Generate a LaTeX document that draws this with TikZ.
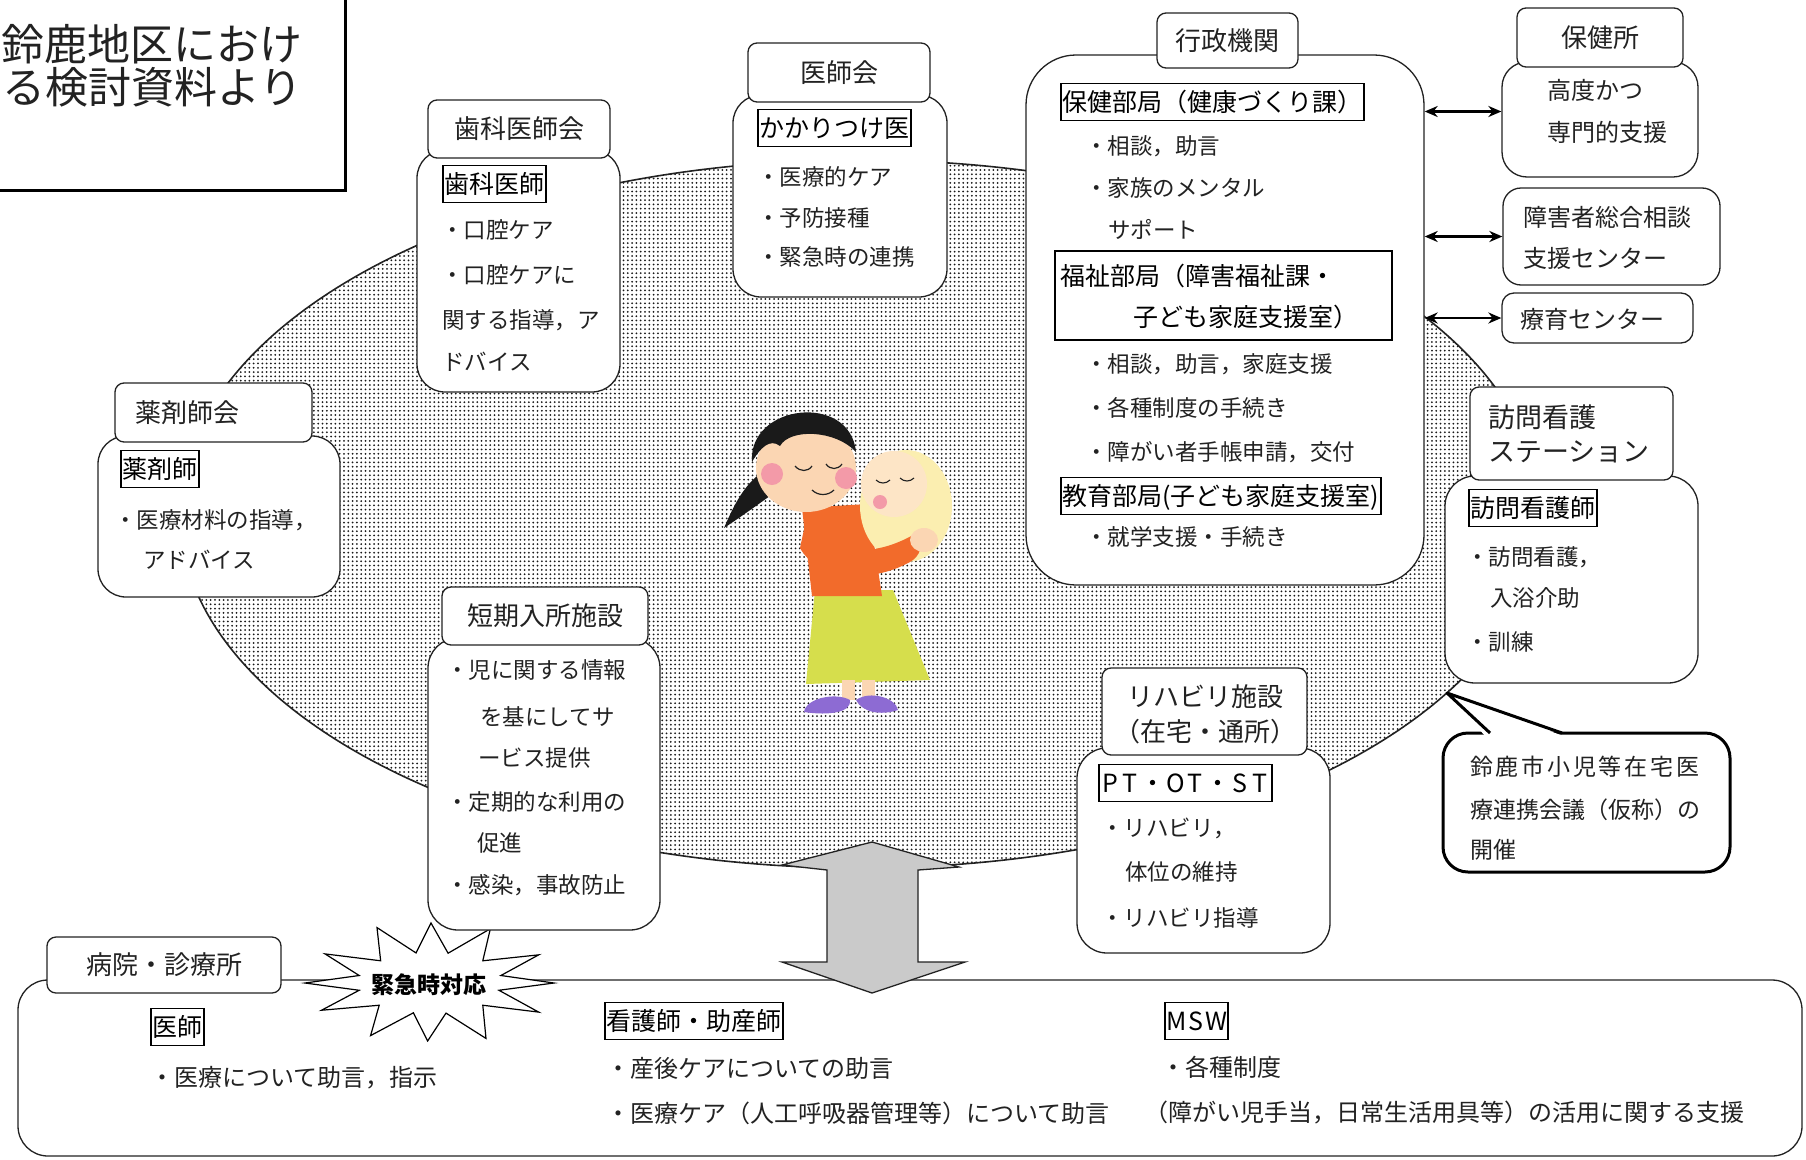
\documentclass[tikz,border=0pt]{standalone}
\usepackage{fontspec}
\setmainfont{Noto Sans CJK JP}
\usetikzlibrary{arrows.meta,patterns.meta,fit}
\definecolor{ink}{HTML}{222222}
\definecolor{arrowgray}{HTML}{CACACA}
\definecolor{hair}{HTML}{1A1A1A}
\definecolor{skin}{HTML}{FBD6B3}
\definecolor{blush}{HTML}{F39AA8}
\definecolor{topcol}{HTML}{F26B2B}
\definecolor{skirt}{HTML}{D6DE4C}
\definecolor{shoe}{HTML}{8D6BD3}
\definecolor{wrap}{HTML}{FBEEB0}
\definecolor{babyskin}{HTML}{FDE5C6}
\newcommand{\fsz}[1]{\fontsize{#1}{#1}\selectfont}
\newcommand{\wl}[1]{\makebox[0.8em][c]{#1}}
\begin{document}
\begin{tikzpicture}[x=1pt,y=-1pt,
  every node/.style={inner sep=0pt,text=ink},
  sz/.style={font=\fsz{#1},text height={0.88*#1},text depth={0.12*#1}},
  txt/.style={anchor=west,sz=#1},txt/.default=22.5,
  lbl/.style={draw=black,line width=1.6pt,anchor=west,sz=25,text=black,inner xsep=1.5pt,inner ysep=6pt},
  hdr/.style={draw=ink,line width=1.3pt,fill=white,rounded corners=9pt},
  panel/.style={draw=ink,line width=1.3pt,fill=white,rounded corners=28pt},
  dbl/.style={{Stealth[length=13pt,width=11pt]}-{Stealth[length=13pt,width=11pt]},line width=2.2pt,black},
]
\useasboundingbox (0,0) rectangle (1806,1159);
\fill[white] (0,0) rectangle (1806,1159);

% ---------- source note (top left) ----------
\draw[line width=3pt] (345,-3) -- (345,190) -- (-3,190);
\node[txt=43] (src1) at (1,44) {鈴鹿地区におけ};
\node[txt=43] (src2) at (2,87) {る検討資料より};

% ---------- dotted ellipse: the home ----------
\coordinate (ec) at (860,514);
\fill[white] (ec) ellipse [x radius=680, y radius=354];
\fill[pattern={Dots[distance=4.3pt,radius=1pt]},pattern color=black!90] (ec) ellipse [x radius=680, y radius=354];
\draw[line width=1.6pt,ink] (ec) ellipse [x radius=680, y radius=354];

% ---------- hospital panel (bottom) ----------
\node[panel,rounded corners=30pt,fit={(18,980) (1802,1156)}] (hosp) {};

% ---------- big down arrow ----------
\draw[fill=arrowgray,draw=ink,line width=1.3pt,line join=miter]
  (782,865) -- (872,842) -- (959,867) -- (918,870) -- (918,962) -- (965,962)
  -- (872,993) -- (782,962) -- (827,962) -- (827,870) -- cycle;

% ---------- emergency starburst ----------
\begin{scope}[shift={(431,983)}]
\draw[fill=white,line width=1.2pt,line join=miter]
  (0:123 and 57) -- (14:70 and 30) -- (28:122 and 62) -- (44:72 and 32)
  -- (60:110 and 64) -- (76:62 and 31) -- (92:96 and 58) -- (106:64 and 31)
  -- (122:114 and 62) -- (136:72 and 32) -- (152:124 and 58) -- (166:74 and 30)
  -- (180:126 and 54) -- (194:74 and 31) -- (208:120 and 62) -- (224:70 and 32)
  -- (240:108 and 64) -- (256:62 and 31) -- (270:96 and 60) -- (286:62 and 31)
  -- (302:112 and 64) -- (316:72 and 32) -- (332:122 and 60) -- (346:72 and 31)
  -- cycle;
\end{scope}
\node[sz=23,font=\fsz{23}\bfseries,text=black] (emg) at (429,985) {緊急時対応};

\node[hdr,fit={(47,937) (281,993)}] (hospH) {};
\node[sz=26] (hospT) at (hospH.center) {病院・診療所};
\node[lbl] (doc) at (150,1027) {医師};
\node[txt=24] (doc1) at (150,1077) {・医療について助言，指示};
\node[lbl] (nurse) at (604,1021) {看護師・助産師};
\node[txt=24] (nurse1) at (606,1068) {・産後ケアについての助言};
\node[txt=24] (nurse2) at (606,1113) {・医療ケア（人工呼吸器管理等）について助言};
\node[lbl] (msw) at (1164,1021) {\wl{M}\wl{S}\wl{W}};
\node[txt=24] (msw1) at (1161,1067) {・各種制度};
\node[txt=24] (msw2) at (1144,1112) {（障がい児手当，日常生活用具等）の活用に関する支援};

% ---------- dental association ----------
\node[panel,fit={(417,150) (620,392)}] (shikaB) {};
\node[hdr,fit={(428,100) (610,158)}] (shikaH) {};
\node[sz=26] (shikaT) at (shikaH.center) {歯科医師会};
\node[lbl] (shikaL) at (442,184) {歯科医師};
\node[txt] (shika1) at (441,230) {・口腔ケア};
\node[txt] (shika2) at (441,275) {・口腔ケアに};
\node[txt] (shika3) at (442,320) {関する指導，ア};
\node[txt] (shika4) at (442,362) {ドバイス};

% ---------- medical association ----------
\node[panel,fit={(733,95) (947,297)}] (ishiB) {};
\node[hdr,fit={(748,43) (930,102)}] (ishiH) {};
\node[sz=26] (ishiT) at (ishiH.center) {医師会};
\node[lbl] (ishiL) at (757,128) {かかりつけ医};
\node[txt] (ishi1) at (757,177) {・医療的ケア};
\node[txt] (ishi2) at (757,218) {・予防接種};
\node[txt] (ishi3) at (757,257) {・緊急時の連携};

% ---------- administration ----------
\node[panel,rounded corners=50pt,fit={(1026,55) (1424,585)}] (gyoB) {};
\node[hdr,fit={(1157,13) (1298,68)}] (gyoH) {};
\node[sz=26] (gyoT) at (gyoH.center) {行政機関};
\node[lbl] (hoken) at (1060,102) {保健部局（健康づくり課）};
\node[txt] (hoken1) at (1085,146) {・相談，助言};
\node[txt] (hoken2) at (1085,188) {・家族のメンタル};
\node[txt] (hoken3) at (1108,230) {サポート};
\node[draw=black,line width=1.6pt,fit={(1055,251) (1392,340)}] (fuku) {};
\node[txt=25,text=black] (fukuA) at (1060,276) {福祉部局（障害福祉課・};
\node[txt=25,text=black] (fukuB) at (1133,317) {子ども家庭支援室）};
\node[txt] (fuku1) at (1085,364) {・相談，助言，家庭支援};
\node[txt] (fuku2) at (1085,408) {・各種制度の手続き};
\node[txt] (fuku3) at (1085,452) {・障がい者手帳申請，交付};
\node[lbl] (kyoiku) at (1060,496) {教育部局(子ども家庭支援室)};
\node[txt] (kyoiku1) at (1085,537) {・就学支援・手続き};

% ---------- public health centre and partners ----------
\node[panel,rounded corners=25pt,fit={(1502,62) (1698,177)}] (hokB) {};
\node[hdr,fit={(1517,8) (1683,67)}] (hokH) {};
\node[sz=26] (hokT) at (hokH.center) {保健所};
\node[txt=24] (hok1) at (1547,90) {高度かつ};
\node[txt=24] (hok2) at (1547,132) {専門的支援};
\node[panel,rounded corners=18pt,fit={(1503,188) (1720,285)}] (sodan) {};
\node[txt=24] (sodan1) at (1523,217) {障害者総合相談};
\node[txt=24] (sodan2) at (1523,258) {支援センター};
\node[panel,rounded corners=12pt,fit={(1502,293) (1693,343)}] (ryoiku) {};
\node[txt=24] (ryoiku1) at (1520,319) {療育センター};

\coordinate (a1) at ([yshift=8pt]hokB.west);
\draw[dbl] (a1 -| gyoB.east) -- (a1);
\draw[dbl] (sodan.west -| gyoB.east) -- (sodan.west);
\draw[dbl] (ryoiku.west -| gyoB.east) -- (ryoiku.west);

% ---------- pharmacists ----------
\node[panel,fit={(98,436) (340,597)}] (yakuB) {};
\node[hdr,fit={(115,383) (312,442)}] (yakuH) {};
\node[txt=26] (yakuT) at (135,413) {薬剤師会};
\node[lbl] (yakuL) at (120,469) {薬剤師};
\node[txt] (yaku1) at (114,520) {・医療材料の指導，};
\node[txt] (yaku2) at (143,560) {アドバイス};

% ---------- short stay ----------
\node[panel,rounded corners=30pt,fit={(428,638) (660,930)}] (tanB) {};
\node[hdr,fit={(442,587) (648,645)}] (tanH) {};
\node[sz=26] (tanT) at (tanH.center) {短期入所施設};
\node[txt] (tan1) at (446,670) {・児に関する情報};
\node[txt] (tan2) at (480,717) {を基にしてサ};
\node[txt] (tan3) at (478,758) {ービス提供};
\node[txt] (tan4) at (446,802) {・定期的な利用の};
\node[txt] (tan5) at (477,843) {促進};
\node[txt] (tan6) at (446,885) {・感染，事故防止};

% ---------- rehabilitation ----------
\node[panel,rounded corners=30pt,fit={(1077,748) (1330,953)}] (rehaB) {};
\node[hdr,fit={(1102,668) (1307,755)}] (rehaH) {};
\node[sz=26] (rehaT1) at (1205,697) {リハビリ施設};
\node[sz=26] (rehaT2) at (1205,732) {（在宅・通所）};
\node[lbl] (rehaL) at (1098,783) {\wl{P}\wl{T}・\wl{O}\wl{T}・\wl{S}\wl{T}};
\node[txt] (reha1) at (1101,828) {・リハビリ，};
\node[txt] (reha2) at (1125,872) {体位の維持};
\node[txt] (reha3) at (1101,918) {・リハビリ指導};

% ---------- visiting nurse station ----------
\node[panel,rounded corners=30pt,fit={(1445,476) (1698,683)}] (homB) {};
\node[hdr,fit={(1470,387) (1673,480)}] (homH) {};
\node[txt=27] (homT1) at (1488,417) {訪問看護};
\node[txt=27] (homT2) at (1488,451) {ステーション};
\node[lbl] (homL) at (1468,508) {訪問看護師};
\node[txt] (hom1) at (1466,557) {・訪問看護，};
\node[txt] (hom2) at (1490,598) {入浴介助};
\node[txt] (hom3) at (1466,642) {・訓練};

% ---------- conference callout ----------
\node[draw=black,line width=3pt,fill=white,rounded corners=25pt,fit={(1443,733) (1730,872)}] (meet) {};
\fill[white] (1486,737) -- (1447,693) -- (1566,737) -- cycle;
\draw[line width=3pt,line join=round] (1490,733) -- (1447,693) -- (1562,733);
\node[txt=23,font=\fsz{23}\addfontfeature{LetterSpace=12}] (meet1) at (1470,767) {鈴鹿市小児等在宅医};
\node[txt=23] (meet2) at (1470,810) {療連携会議（仮称）の};
\node[txt=23] (meet3) at (1470,850) {開催};

% ---------- mother holding baby ----------
\fill[hair] (772,466) .. controls (748,478) and (736,500) .. (724,528)
  .. controls (748,512) and (764,500) .. (784,486) -- cycle;
\fill[skirt] (815,590) -- (893,590) -- (930,680) -- (806,684) -- cycle;
\fill[skin] (842,680) rectangle (855,700);
\fill[skin] (862,680) rectangle (875,698);
\fill[shoe] (804,712) .. controls (806,698) and (836,692) .. (850,700) .. controls (852,712) and (830,716) .. (804,712) -- cycle;
\fill[shoe] (856,700) .. controls (870,690) and (896,698) .. (898,710) .. controls (880,716) and (862,712) .. (856,700) -- cycle;
\fill[topcol] (802,508) -- (868,504) -- (882,596) -- (812,596) -- cycle;
\fill[skin] (806,468) ellipse [x radius=50, y radius=44];
\fill[hair] (752,462) .. controls (748,404) and (850,392) .. (856,452)
  .. controls (836,430) and (790,428) .. (780,446) .. controls (770,438) and (760,448) .. (752,462) -- cycle;
\fill[blush] (772,474) circle [radius=11];
\fill[blush] (846,478) circle [radius=11];
\draw[ink,line width=1.2pt] (795,466) .. controls (800,472) and (808,472) .. (812,466);
\draw[ink,line width=1.2pt] (826,464) .. controls (830,470) and (838,470) .. (842,464);
\draw[ink,line width=1.2pt] (812,490) .. controls (818,496) and (828,496) .. (834,490);
\fill[wrap] (906,506) ellipse [x radius=46, y radius=56];
\fill[babyskin] (894,484) circle [radius=33];
\fill[blush] (880,502) circle [radius=7];
\draw[ink,line width=1.1pt] (876,480) .. controls (880,484) and (886,484) .. (890,480);
\draw[ink,line width=1.1pt] (900,478) .. controls (904,482) and (910,482) .. (914,478);
\fill[topcol] (806,520) .. controls (830,560) and (880,556) .. (918,532)
  .. controls (924,546) and (920,556) .. (910,562) .. controls (870,584) and (818,580) .. (800,548) -- cycle;
\fill[skin] (924,540) ellipse [x radius=14, y radius=12];
\end{tikzpicture}
\end{document}
